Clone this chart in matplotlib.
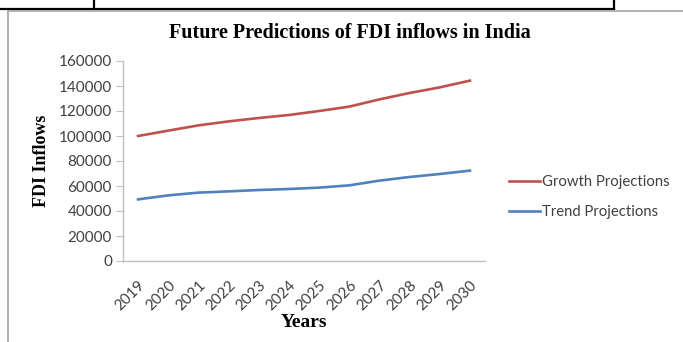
import matplotlib
matplotlib.use('Agg')
import matplotlib.pyplot as plt
from matplotlib.lines import Line2D

years = ['2019', '2020', '2021', '2022', '2023', '2024',
         '2025', '2026', '2027', '2028', '2029', '2030']
growth = [100000, 104300, 108500, 111700, 114400, 116800,
          120000, 123500, 129300, 134400, 138900, 144300]
trend = [49300, 52500, 54700, 55700, 56800, 57600,
         58700, 60500, 64300, 67200, 69600, 72300]

fig = plt.figure(figsize=(6.83, 3.42), dpi=100)

# page decorations around the chart (table lines and chart border)
fig.add_artist(Line2D([0, 614 / 683], [1 - 9 / 342] * 2, color='black', lw=1.6))
fig.add_artist(Line2D([94 / 683] * 2, [1, 1 - 9 / 342], color='black', lw=1.6))
fig.add_artist(Line2D([614 / 683] * 2, [1, 1 - 9 / 342], color='black', lw=1.6))
fig.add_artist(Line2D([8 / 683, 1], [1 - 11 / 342] * 2, color='#a6a6a6', lw=1.2))
fig.add_artist(Line2D([8 / 683] * 2, [0, 1 - 11 / 342], color='#a6a6a6', lw=1.2))

ax = fig.add_axes([123 / 683, 81 / 342, 362 / 683, 200 / 342])
x = list(range(len(years)))
ax.plot(x, growth, color='#c0504d', lw=1.9, label='Growth Projections')
ax.plot(x, trend, color='#4f81bd', lw=1.9, label='Trend Projections')

ax.set_xlim(-0.5, len(years) - 0.5)
ax.set_ylim(0, 160000)
ax.set_yticks(range(0, 160001, 20000))
ax.set_xticks(x)
ax.set_xticklabels(years, rotation=45, ha='right', rotation_mode='anchor')

for s in ['top', 'right']:
    ax.spines[s].set_visible(False)
for s in ['left', 'bottom']:
    ax.spines[s].set_color('#bfbfbf')
    ax.spines[s].set_linewidth(1.0)
ax.tick_params(axis='y', length=5, color='#bfbfbf', labelsize=11, labelcolor='#404040', pad=3)
ax.tick_params(axis='x', length=0, labelsize=11, labelcolor='#404040', pad=12)
for lab in ax.get_xticklabels() + ax.get_yticklabels():
    lab.set_fontfamily('Lato')

ax.set_xlabel('Years', fontfamily='Liberation Serif', fontweight='bold', fontsize=14, labelpad=1)
ax.set_ylabel('FDI Inflows', fontfamily='Liberation Serif', fontweight='bold', fontsize=13, labelpad=6)

fig.text(350 / 683, 1 - 33 / 342, 'Future Predictions of FDI inflows in India',
         ha='center', va='center', fontfamily='Liberation Serif', fontweight='bold', fontsize=14.5)

ax.legend(loc='center left', bbox_to_anchor=(1.03, 0.32), frameon=False,
          prop={'family': 'Lato', 'size': 10.7}, handlelength=2.1, handletextpad=0.12,
          labelspacing=1.05, labelcolor='#404040')

fig.savefig('out.png', dpi=100)
